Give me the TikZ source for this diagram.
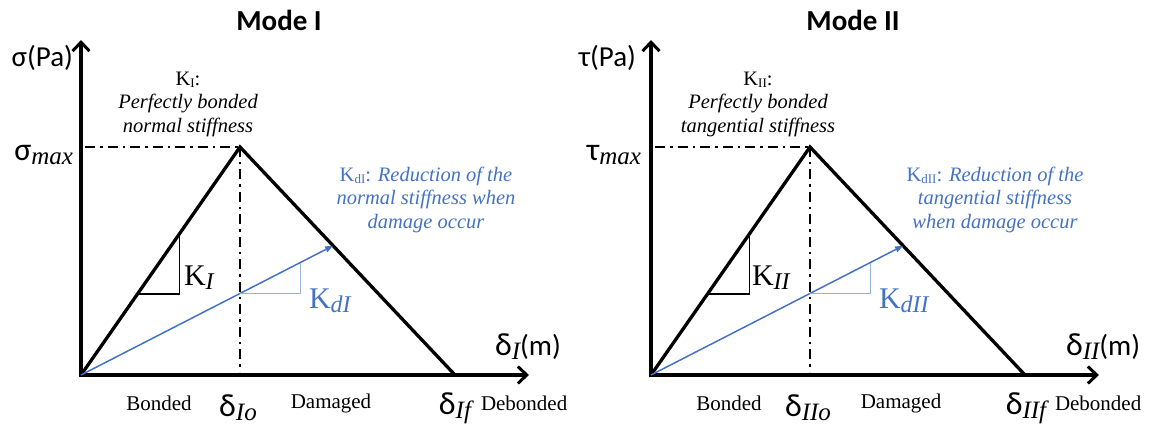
\documentclass[tikz,border=0pt]{standalone}
\usepackage{fontspec}
\setmainfont{Liberation Serif}
\newfontfamily\sansf{Carlito}
\newfontfamily\serf{Liberation Serif}
\usetikzlibrary{arrows.meta,calc}
\definecolor{kblue}{RGB}{68,114,196}
\definecolor{lblue}{RGB}{150,176,224}
\newcommand\fs[1]{\fontsize{#1}{#1}\selectfont}
% Greek letter with italic serif subscript
\newcommand\gsub[2]{{\sansf\fs{32}#1}\raisebox{-4pt}{\serf\itshape\fs{25}#2}}
\begin{document}
\begin{tikzpicture}[x=1pt,y=-1pt,
  axis/.style={line width=3.3pt,line join=miter,
    {Straight Barb[length=9pt,width=17pt,line width=3pt]}-{Straight Barb[length=9pt,width=17pt,line width=3pt]}},
  curve/.style={line width=3.3pt,line join=miter},
  dashdot/.style={line width=2.8pt,dash pattern=on 10pt off 5pt on 2.5pt off 5pt},
  tri/.style={line width=1.8pt},
  blueline/.style={kblue,line width=1.5pt,-{Triangle[length=8pt,width=6pt]}},
  bluetri/.style={lblue,line width=0.9pt},
  lbl/.style={inner sep=0pt,outer sep=0pt},
  title/.style={lbl,font=\sansf\bfseries\fs{29}},
  axlbl/.style={lbl,font=\sansf\fs{29}},
  note/.style={lbl,align=center,font=\serf\fontsize{20.5}{23.5}\selectfont,anchor=north},
  zone/.style={lbl,font=\serf\fs{21}},
]
\useasboundingbox (0,0) rectangle (1151,427);

% ---------------- Mode I ----------------
\coordinate (LO) at (81,375);
\coordinate (LY) at (81,40);
\coordinate (LX) at (529,375);
\coordinate (LP) at (240,147);
\coordinate (LF) at (455,375);
\coordinate (LB) at (240,372);
\coordinate (LD) at (85,147);
\draw[axis] (LY) -- (LO) -- (LX);
\draw[curve] (LO) -- (LP) -- (LF);
\draw[dashdot] (LD) -- (LP);
\draw[dashdot] (LP) -- (LB);
\coordinate (LA) at ($(LO)!0.355!(LP)$);
\coordinate (LC) at ($(LO)!0.62!(LP)$);
\draw[tri] (LA) -- (LA -| LC) -- (LC);
\coordinate (LQ) at ($(LP)!0.433!(LF)$);
\draw[blueline] (LO) -- (LQ);
\coordinate (LG) at ($(LO)!0.631!(LQ)$);
\coordinate (LH) at ($(LO)!0.869!(LQ)$);
\draw[bluetri] (LG) -- (LG -| LH) -- (LH);

\node[title] (LT) at (279,20) {Mode I};
\node[axlbl,anchor=east] (Lsig) at (73,58) {σ(Pa)};
\node[lbl,anchor=base east] (Lsm) at (73,161) {\gsub{σ}{max}};
\node[note] (LK) at (188,72) {K\raisebox{-2pt}{\fs{13}I}:\\ \itshape Perfectly bonded\\ \itshape normal stiffness};
\node[note,text=kblue] (LBT) at (426,167) {K\raisebox{-2pt}{\fs{13}dI}: \itshape Reduction of the\\ \itshape normal stiffness when\\ \itshape damage occur};
\node[lbl,anchor=west] (LKI) at (184,278) {\serf\fs{30}K\raisebox{-4pt}{\itshape\fs{24}I}};
\node[lbl,anchor=west,text=kblue] (LKd) at (309,301) {\serf\fs{30}K\raisebox{-4pt}{\itshape\fs{24}dI}};
\node[lbl,anchor=west] (Ldx) at (495,347) {\gsub{δ}{I}{\sansf\fs{29}(m)}};
\node[zone] (Lbon) at (159,403) {Bonded};
\node[lbl] (Ldo) at (238,408) {\gsub{δ}{Io}};
\node[zone] (Ldam) at (331,403) {Damaged};
\node[lbl] (Ldf) at (455,408) {\gsub{δ}{If}};
\node[zone,anchor=west] (Ldeb) at (481,403) {Debonded};

% ---------------- Mode II ----------------
\coordinate (RO) at (651,375);
\coordinate (RY) at (651,40);
\coordinate (RX) at (1099,375);
\coordinate (RP) at (810,147);
\coordinate (RF) at (1025,375);
\coordinate (RB) at (810,372);
\coordinate (RD) at (655,147);
\draw[axis] (RY) -- (RO) -- (RX);
\draw[curve] (RO) -- (RP) -- (RF);
\draw[dashdot] (RD) -- (RP);
\draw[dashdot] (RP) -- (RB);
\coordinate (RA) at ($(RO)!0.355!(RP)$);
\coordinate (RC) at ($(RO)!0.62!(RP)$);
\draw[tri] (RA) -- (RA -| RC) -- (RC);
\coordinate (RQ) at ($(RP)!0.433!(RF)$);
\draw[blueline] (RO) -- (RQ);
\coordinate (RG) at ($(RO)!0.631!(RQ)$);
\coordinate (RH) at ($(RO)!0.869!(RQ)$);
\draw[bluetri] (RG) -- (RG -| RH) -- (RH);

\node[title] (RT) at (853,20) {Mode II};
\node[axlbl,anchor=east] (Rtau) at (636,58) {τ(Pa)};
\node[lbl,anchor=base east] (Rtm) at (641,161) {\gsub{τ}{max}};
\node[note] (RK) at (758,72) {K\raisebox{-2pt}{\fs{13}II}:\\ \itshape Perfectly bonded\\ \itshape tangential stiffness};
\node[note,text=kblue] (RBT) at (995,167) {K\raisebox{-2pt}{\fs{13}dII}: \itshape Reduction of the\\ \itshape tangential stiffness\\ \itshape when damage occur};
\node[lbl,anchor=west] (RKI) at (752,278) {\serf\fs{30}K\raisebox{-4pt}{\itshape\fs{24}II}};
\node[lbl,anchor=west,text=kblue] (RKd) at (879,301) {\serf\fs{30}K\raisebox{-4pt}{\itshape\fs{24}dII}};
\node[lbl,anchor=west] (Rdx) at (1066,347) {\gsub{δ}{II}{\sansf\fs{29}(m)}};
\node[zone] (Rbon) at (729,403) {Bonded};
\node[lbl] (Rdo) at (808,408) {\gsub{δ}{IIo}};
\node[zone] (Rdam) at (901,403) {Damaged};
\node[lbl] (Rdf) at (1026,408) {\gsub{δ}{IIf}};
\node[zone,anchor=west] (Rdeb) at (1055,403) {Debonded};
\end{tikzpicture}
\end{document}
